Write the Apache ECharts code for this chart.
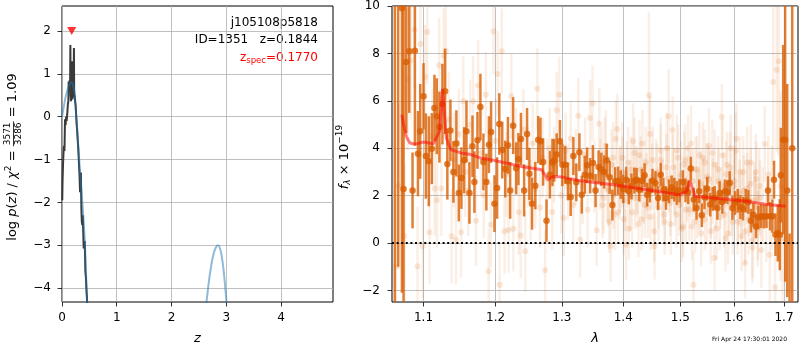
<!DOCTYPE html>
<html><head><meta charset="utf-8">
<script src="https://cdn.jsdelivr.net/npm/echarts@6/dist/echarts.min.js"></script>
<style>html,body{margin:0;padding:0;background:#fff}#c{width:800px;height:350px}</style>
</head><body><div id="c"></div>
<script>
// ---------- LEFT PANEL DATA: log p(z) ----------
const zTicks = [0, 1, 2, 3, 4];
const pTicks = [-4, -3, -2, -1, 0, 1, 2];
const zDark = [0.005, 0.01, 0.02, 0.03, 0.037, 0.045, 0.055, 0.065, 0.075, 0.085,
  0.098, 0.108, 0.117, 0.122, 0.13, 0.14, 0.147, 0.153, 0.158, 0.165,
  0.172, 0.178, 0.183, 0.19, 0.196, 0.2, 0.206, 0.212, 0.218, 0.222,
  0.226, 0.232, 0.24, 0.25, 0.262, 0.275, 0.288, 0.3, 0.31, 0.318,
  0.323, 0.33, 0.337, 0.345, 0.354, 0.362, 0.372, 0.38, 0.39, 0.397,
  0.405, 0.415, 0.427, 0.437, 0.445, 0.455, 0.464, 0.475];
const pDark = [-1.95, -1.5, -1.06, -0.75, -0.68, -0.8, -0.06, -0.2, 0.0, -0.1,
  0.1, 0.3, 0.36, 0.82, 0.7, 0.85, 0.6, 1.67, 0.5, 0.36,
  1.1, 0.6, 1.29, 0.4, 0.9, 0.48, 1.1, 0.7, 1.6, 0.6,
  0.45, 0.5, 0.35, 0.25, -0.05, -0.3, -0.55, -0.83, -1.1, -1.3,
  -1.26, -1.76, -1.5, -1.3, -2.15, -2.45, -2.53, -2.3, -2.8, -3.07,
  -2.95, -2.9, -3.61, -3.75, -4.0, -4.2, -4.46, -4.7];
const zBlueA = [0, 0.03, 0.06, 0.09, 0.12, 0.15, 0.17, 0.19, 0.21, 0.232, 0.26, 0.293, 0.33, 0.384, 0.42, 0.457, 0.48];
const pBlueA = [0.0, 0.22, 0.42, 0.58, 0.7, 0.78, 0.8, 0.78, 0.7, 0.55, 0.0, -0.6, -1.3, -2.22, -3.0, -4.32, -4.8];
const zBlueB = [2.6, 2.64, 2.7, 2.76, 2.81, 2.85, 2.9, 2.95, 3.0, 3.03];
const pBlueB = [-4.88, -4.32, -3.68, -3.24, -3.05, -3.0, -3.14, -3.56, -4.26, -4.81];
const zSpec = 0.1770, zSpecMarkY = 2;

// ---------- RIGHT PANEL DATA: spectrum ----------
const lamTicks = [1.1, 1.2, 1.3, 1.4, 1.5, 1.6, 1.7];
const lamTickLabels = ['1.1', '1.2', '1.3', '1.4', '1.5', '1.6', '1.7'];
const fTicks = [-2, 0, 2, 4, 6, 8, 10];
const lamD = [1.0625, 1.0668, 1.0717, 1.0738, 1.0773, 1.0812, 1.0855, 1.0886, 1.0926, 1.0956,
  1.1000, 1.1031, 1.1070, 1.1110, 1.1146, 1.1177, 1.1213, 1.1254, 1.1290, 1.1321,
  1.1363, 1.1404, 1.1445, 1.1479, 1.1515, 1.1553, 1.1585, 1.1627, 1.1670, 1.1697,
  1.1740, 1.1782, 1.1825, 1.1867, 1.1904, 1.1935, 1.1984, 1.2022, 1.2054, 1.2097,
  1.2141, 1.2180, 1.2213, 1.2257, 1.2302, 1.2336, 1.2373, 1.2421, 1.2465, 1.2500,
  1.2540, 1.2590, 1.2634, 1.2668, 1.2709, 1.2761, 1.2813, 1.2853, 1.2880, 1.2919,
  1.2970, 1.3008, 1.3053, 1.3096, 1.3139, 1.3182, 1.3229, 1.3278, 1.3316, 1.3365,
  1.3403, 1.3452, 1.3496, 1.3540, 1.3590, 1.3634, 1.3680, 1.3723, 1.3773, 1.3818,
  1.3864, 1.3914, 1.3958, 1.4000, 1.4050, 1.4094, 1.4140, 1.4190, 1.4229, 1.4274,
  1.4320, 1.4366, 1.4411, 1.4457, 1.4503, 1.4556, 1.4602, 1.4649, 1.4696, 1.4742,
  1.4795, 1.4843, 1.4891, 1.4937, 1.4985, 1.5045, 1.5094, 1.5143, 1.5191, 1.5245,
  1.5296, 1.5345, 1.5394, 1.5444, 1.5495, 1.5551, 1.5600, 1.5635, 1.5686, 1.5729,
  1.5780, 1.5831, 1.5877, 1.5921, 1.5973, 1.6024, 1.6076, 1.6128, 1.6179, 1.6232,
  1.6284, 1.6335, 1.6383, 1.6435, 1.6482, 1.6534, 1.6588, 1.6643, 1.6675, 1.6716,
  1.6764, 1.6797, 1.6826, 1.6873, 1.6914, 1.6935, 1.6983, 1.7024, 1.7066, 1.7115,
  1.7170];
const fD = [-3.0, 12.0, 9.9, 2.28, 7.64, 8.09, 2.22, 8.11, 3.77, 4.71,
  6.19, 3.67, 3.45, 3.98, 5.70, 5.35, 4.89, 5.86, 6.40, 3.33,
  4.75, 3.00, 4.20, 2.11, 2.74, 3.49, 4.71, 2.11, 4.08, 2.57,
  4.33, 5.74, 3.42, 2.57, 4.15, 4.68, 1.66, 2.32, 5.02, 3.92,
  3.12, 4.12, 2.22, 4.95, 3.15, 3.54, 4.39, 2.22, 4.60, 2.92,
  1.66, 2.42, 4.36, 4.29, 3.42, 0.94, 2.88, 3.40, 3.49, 3.73,
  4.29, 3.30, 3.30, 2.60, 1.94, 3.67, 2.56, 3.83, 2.04, 2.88,
  3.28, 2.84, 3.38, 2.21, 3.21, 3.11, 3.00, 3.49, 2.77, 1.60,
  2.60, 2.63, 2.46, 2.28, 2.67, 2.18, 2.39, 2.63, 2.67, 2.25,
  2.63, 2.86, 2.04, 2.21, 2.63, 2.53, 1.90, 2.88, 2.25, 1.90,
  2.18, 2.35, 2.25, 2.11, 2.21, 2.57, 2.22, 2.14, 3.14, 1.83,
  1.48, 2.18, 1.17, 1.93, 2.29, 1.62, 1.86, 1.90, 1.48, 2.11,
  1.73, 2.18, 2.15, 2.53, 1.48, 1.69, 1.78, 1.51, 1.45, 1.78,
  1.73, 0.94, 1.19, 0.70, 1.08, 1.13, 1.11, 1.13, 2.21, 1.13,
  1.13, 2.67, 0.35, 0.42, 0.35, 2.86, 4.36, 4.36, 2.21, -6.0,
  4.0];
const eD = [14, 13, 12, 8, 3.0, 2.6, 1.6, 4.0, 1.8, 2.0,
  1.4, 1.8, 1.9, 1.5, 1.4, 1.6, 1.5, 1.7, 1.8, 1.5,
  1.3, 1.3, 1.4, 1.2, 1.3, 1.4, 1.3, 1.3, 1.3, 1.3,
  1.2, 1.4, 1.2, 1.2, 1.2, 1.3, 1.2, 1.3, 1.3, 1.2,
  1.2, 1.2, 1.2, 1.2, 1.1, 1.1, 1.1, 1.1, 1.1, 1.1,
  1.1, 1.0, 1.0, 1.0, 1.0, 0.9, 1.0, 1.0, 0.9, 0.9,
  0.9, 0.9, 0.8, 0.8, 0.8, 0.8, 0.8, 0.8, 0.8, 0.8,
  0.75, 0.75, 0.75, 0.7, 0.7, 0.7, 0.7, 0.7, 0.7, 0.65,
  0.6, 0.6, 0.6, 0.6, 0.55, 0.55, 0.55, 0.55, 0.5, 0.5,
  0.5, 0.5, 0.5, 0.5, 0.5, 0.5, 0.5, 0.5, 0.5, 0.5,
  0.5, 0.5, 0.5, 0.5, 0.5, 0.5, 0.5, 0.5, 0.5, 0.5,
  0.5, 0.5, 0.5, 0.5, 0.5, 0.5, 0.5, 0.5, 0.5, 0.5,
  0.5, 0.5, 0.5, 0.5, 0.5, 0.5, 0.5, 0.5, 0.5, 0.5,
  0.5, 0.5, 0.5, 0.5, 0.5, 0.5, 0.5, 0.5, 0.6, 0.6,
  0.7, 0.8, 0.9, 1.2, 1.5, 2.0, 4.0, 6.0, 4.5, 6.4,
  14];
const lamL = [1.064, 1.068, 1.075, 1.079, 1.083, 1.088, 1.092, 1.096, 1.099, 1.102,
  1.105, 1.108, 1.112, 1.115, 1.118, 1.121, 1.124, 1.127, 1.130, 1.134,
  1.138, 1.141, 1.144, 1.148, 1.151, 1.154, 1.157, 1.161, 1.164, 1.168,
  1.172, 1.175, 1.179, 1.183, 1.186, 1.190, 1.193, 1.197, 1.200, 1.203,
  1.206, 1.209, 1.213, 1.216, 1.219, 1.223, 1.226, 1.230, 1.234, 1.237,
  1.241, 1.244, 1.248, 1.252, 1.255, 1.259, 1.262, 1.266, 1.270, 1.274,
  1.277, 1.281, 1.285, 1.288, 1.292, 1.296, 1.299, 1.303, 1.306, 1.310,
  1.314, 1.318, 1.322, 1.326, 1.329, 1.333, 1.337, 1.341, 1.345, 1.349,
  1.352, 1.356, 1.360, 1.364, 1.367, 1.371, 1.375, 1.379, 1.383, 1.386,
  1.390, 1.394, 1.398, 1.401, 1.405, 1.408, 1.412, 1.415, 1.419, 1.422,
  1.426, 1.430, 1.433, 1.437, 1.440, 1.444, 1.447, 1.451, 1.454, 1.458,
  1.461, 1.465, 1.468, 1.472, 1.475, 1.479, 1.482, 1.486, 1.489, 1.493,
  1.496, 1.500, 1.503, 1.507, 1.510, 1.514, 1.517, 1.521, 1.524, 1.528,
  1.531, 1.535, 1.538, 1.542, 1.545, 1.549, 1.552, 1.556, 1.559, 1.563,
  1.566, 1.570, 1.573, 1.577, 1.580, 1.584, 1.587, 1.591, 1.594, 1.598,
  1.601, 1.605, 1.608, 1.612, 1.615, 1.619, 1.622, 1.626, 1.629, 1.633,
  1.636, 1.640, 1.643, 1.647, 1.650, 1.654, 1.657, 1.661, 1.664, 1.668,
  1.671, 1.675, 1.678, 1.682, 1.685, 1.689, 1.693, 1.697];
const fL = [-1.0, 2.4, 0.3, 6.9, 7.7, 9.0, -0.98, 8.4, -0.14, 7.0,
  8.9, 0.45, 4.5, 2.3, 1.8, 7.5, 2.3, 7.9, 8.1, 5.2,
  0.28, 3.5, 0.14, 4.6, 0.45, 5.98, 3.0, 2.2, 5.0, 5.98,
  0.94, 6.65, 3.8, 2.0, 6.26, -1.19, 0.77, 8.93, 4.3, 7.13,
  -1.76, 8.09, 0.5, 2.9, 0.55, 6.19, 0.6, 3.9, 1.3, 0.32,
  4.8, -0.35, 3.2, 1.8, 4.2, 2.3, 6.51, 1.5, 3.6, -1.15,
  2.7, 4.0, 1.31, 3.3, 5.6, 6.26, 2.0, 1.05, 3.9, 2.6,
  4.4, 1.6, 3.2, 5.37, 0.14, 2.4, 3.7, 1.4, 5.27, 5.89,
  2.8, 0.54, 5.03, 3.4, 1.9, 4.1, 2.2, -0.14, 3.6, 1.2,
  4.81, 2.5, 3.0, 1.0, -0.07, 3.4, 2.0, 1.3, 3.8, 2.6,
  0.8, 3.1, 4.2, 1.6, 2.4, 6.23, 1.1, 3.5, -0.14, 2.8,
  1.5, 3.9, 2.1, 0.9, 3.2, 5.35, 1.7, 4.77, 2.6, 1.2,
  3.6, 2.0, 0.6, 3.3, 1.4, 4.0, 2.5, 0.7, -1.76, 3.1,
  1.6, 3.7, 0.4, 2.2, 3.4, 1.3, 2.7, 0.5, 3.8, -0.63,
  2.0, 3.1, 1.1, 5.32, 2.4, 0.2, 3.3, 1.7, 4.0, 0.9,
  2.6, 4.4, 1.4, 3.0, 0.3, 2.2, -0.84, 3.4, 1.0, 2.5,
  0.1, 1.8, 3.0, 0.6, 2.4, -0.3, 1.6, 4.18, 0.8, 2.9,
  -0.5, 1.9, 6.79, -1.87, 7.31, 7.67, 2.4, 0.2];
const eL = [3.5, 3.5, 3.0, 3.0, 2.5, 2.5, 2.5, 2.5, 2.2, 2.2,
  2.2, 2.2, 2.0, 2.0, 2.0, 2.0, 2.0, 2.0, 2.0, 2.0,
  2.0, 2.0, 1.9, 1.9, 1.9, 1.9, 1.9, 1.9, 1.9, 1.9,
  1.9, 1.9, 1.8, 1.8, 1.8, 1.8, 1.8, 1.8, 1.8, 1.8,
  1.8, 1.8, 1.8, 1.8, 1.8, 1.8, 1.8, 1.8, 1.8, 1.8,
  1.7, 1.7, 1.7, 1.7, 1.7, 1.7, 1.7, 1.7, 1.7, 1.7,
  1.7, 1.7, 1.6, 1.6, 1.6, 1.6, 1.6, 1.6, 1.6, 1.6,
  1.6, 1.6, 1.6, 1.6, 1.6, 1.6, 1.6, 1.6, 1.6, 1.6,
  1.5, 1.5, 1.5, 1.5, 1.5, 1.5, 1.5, 1.5, 1.5, 1.5,
  1.5, 1.5, 1.5, 1.5, 1.5, 1.5, 1.5, 1.5, 1.5, 1.5,
  1.4, 1.4, 1.4, 1.4, 1.4, 3.5, 1.4, 1.4, 1.4, 1.4,
  1.4, 1.4, 1.4, 1.4, 1.4, 2.0, 1.4, 1.4, 1.4, 1.4,
  1.4, 1.4, 1.4, 1.4, 1.4, 1.4, 1.4, 1.4, 1.4, 1.4,
  1.4, 1.4, 1.4, 1.4, 1.4, 1.4, 1.4, 1.4, 1.4, 1.4,
  1.4, 1.4, 1.4, 1.4, 1.4, 1.4, 1.4, 1.4, 1.4, 1.4,
  1.5, 1.5, 1.5, 1.5, 1.5, 1.5, 1.5, 1.5, 1.5, 1.5,
  1.6, 1.6, 1.6, 1.6, 1.6, 1.6, 1.6, 1.6, 1.6, 1.6,
  2.0, 2.2, 3.5, 2.5, 3.5, 4.0, 4.0, 4.5];
// second exposure, dense region
const lamL2 = [1.3618, 1.3655, 1.3692, 1.3728, 1.3765, 1.3802, 1.3838, 1.3875, 1.3912, 1.3948,
  1.3985, 1.4022, 1.4058, 1.4095, 1.4132, 1.4168, 1.4205, 1.4242, 1.4278, 1.4315,
  1.4352, 1.4388, 1.4425, 1.4462, 1.4498, 1.4535, 1.4572, 1.4608, 1.4645, 1.4682,
  1.4718, 1.4755, 1.4792, 1.4828, 1.4865, 1.4902, 1.4938, 1.4975, 1.5012, 1.5048,
  1.5085, 1.5122, 1.5158, 1.5195, 1.5232, 1.5268, 1.5305, 1.5342, 1.5378, 1.5415,
  1.5452, 1.5488, 1.5525, 1.5562, 1.5598, 1.5635, 1.5672, 1.5708, 1.5745, 1.5782,
  1.5818, 1.5855, 1.5892, 1.5928, 1.5965, 1.6002, 1.6038, 1.6075, 1.6112, 1.6148,
  1.6185, 1.6222, 1.6258, 1.6295, 1.6332, 1.6368, 1.6405, 1.6442, 1.6478, 1.6515];
const fL2 = [2.9, 1.6, 3.8, 2.3, 0.9, 3.3, 2.0, 4.4, 1.3, 2.7,
  3.6, 1.8, 2.9, 0.6, 3.1, 4.3, 1.9, 2.6, 3.7, 1.0,
  2.2, 3.4, 1.5, 4.6, 2.8, 0.5, 3.0, 1.9, 3.5, 2.4,
  1.2, 4.0, 2.7, 0.8, 3.2, 2.0, 3.9, 1.6, 2.9, 0.7,
  3.5, 2.3, 1.4, 4.2, 2.6, 0.9, 3.1, 1.8, 2.5, 3.6,
  1.0, 2.8, 4.1, 1.5, 2.2, 3.3, 0.6, 2.6, 1.9, 3.7,
  1.2, 2.9, 0.4, 3.2, 1.7, 2.4, 3.9, 0.9, 2.1, 1.4,
  3.0, 0.5, 2.3, 1.8, 3.4, -0.2, 1.5, 2.7, 0.8, 1.9];
const eL2 = [1.5, 1.4, 1.5, 1.4, 1.3, 1.5, 1.4, 1.6, 1.3, 1.4,
  1.5, 1.3, 1.4, 1.3, 1.4, 1.6, 1.3, 1.4, 1.5, 1.3,
  1.4, 1.5, 1.3, 1.6, 1.4, 1.3, 1.4, 1.3, 1.5, 1.4,
  1.3, 1.5, 1.4, 1.3, 1.4, 1.3, 1.5, 1.3, 1.4, 1.3,
  1.5, 1.4, 1.3, 1.6, 1.4, 1.3, 1.4, 1.3, 1.4, 1.5,
  1.3, 1.4, 1.6, 1.3, 1.4, 1.5, 1.3, 1.4, 1.3, 1.5,
  1.4, 1.4, 1.3, 1.5, 1.4, 1.4, 1.6, 1.4, 1.4, 1.5,
  1.5, 1.4, 1.5, 1.5, 1.6, 1.5, 1.5, 1.6, 1.5, 1.6];
const lamM = [1.0717, 1.0738, 1.0773, 1.0820, 1.0890, 1.1000, 1.1133, 1.1213, 1.1255, 1.1307,
  1.1367, 1.1507, 1.1651, 1.1778, 1.1969, 1.2361, 1.2686, 1.2786, 1.2867, 1.2998,
  1.3289, 1.3833, 1.4402, 1.4992, 1.5115, 1.5174, 1.5266, 1.5607, 1.6249, 1.6646, 1.7037];
const fM = [5.41, 4.99, 4.50, 4.22, 4.17, 4.26, 4.19, 4.71, 6.50, 4.43,
  3.94, 3.80, 3.73, 3.59, 3.49, 3.24, 3.09, 2.67, 2.81, 2.78,
  2.63, 2.46, 2.25, 2.04, 2.18, 2.63, 1.97, 1.90, 1.76, 1.62, 1.55];

// ---------- rendering ----------
const ORANGE = '#d95f02';
const FONT = '"DejaVu Sans", sans-serif';
const LAM_MIN = 1.0589, LAM_MAX = 1.729;
const lnTicks = lamTicks.map(Math.log);
function lamLabel(v) {
  let best = 0;
  lnTicks.forEach((t, i) => { if (Math.abs(t - v) < Math.abs(lnTicks[best] - v)) best = i; });
  return lamTickLabels[best];
}
function clamp(v, a, b) { return Math.max(a, Math.min(b, v)); }
function errItem(color, width, barOp, dotR, dotOp) {
  return function (params, api) {
    const x = api.value(0), f = api.value(1), e = api.value(2);
    const cs = params.coordSys;
    const hi = api.coord([x, f + e]), lo = api.coord([x, f - e]), c = api.coord([x, f]);
    const y1 = clamp(hi[1], cs.y, cs.y + cs.height), y2 = clamp(lo[1], cs.y, cs.y + cs.height);
    const ch = [{ type: 'line', shape: { x1: c[0], y1: y1, x2: c[0], y2: y2 }, style: { stroke: color, lineWidth: width, opacity: barOp } }];
    if (dotR > 0 && c[1] >= cs.y && c[1] <= cs.y + cs.height) {
      ch.push({ type: 'circle', shape: { cx: c[0], cy: c[1], r: dotR }, style: { fill: color, opacity: dotOp } });
    }
    return { type: 'group', children: ch };
  };
}

// text layout helper
const mctx = document.createElement('canvas').getContext('2d');
function fontStr(size, italic) { return (italic ? 'italic ' : '') + size + 'px ' + FONT; }
function tw(t, size, italic) { mctx.font = fontStr(size, italic); return mctx.measureText(t).width; }
function layoutPieces(pieces, color) {
  let x = 0; const ch = [];
  pieces.forEach(p => {
    const size = p.size || 13;
    if (p.frac) {
      const s = p.size || 9;
      const w = Math.max(tw(p.frac[0], s), tw(p.frac[1], s)) + 2;
      ch.push({ type: 'text', x: x + w / 2, y: -5, style: { text: p.frac[0], font: fontStr(s), fill: color, align: 'center', verticalAlign: 'middle' } });
      ch.push({ type: 'text', x: x + w / 2, y: 6, style: { text: p.frac[1], font: fontStr(s), fill: color, align: 'center', verticalAlign: 'middle' } });
      ch.push({ type: 'line', shape: { x1: x, y1: 0.5, x2: x + w, y2: 0.5 }, style: { stroke: color, lineWidth: 0.8 } });
      x += w;
    } else {
      ch.push({ type: 'text', x: x, y: p.dy || 0, style: { text: p.t, font: fontStr(size, p.it), fill: color, align: 'left', verticalAlign: 'middle' } });
      x += tw(p.t, size, p.it);
    }
  });
  return { children: ch, width: x };
}
function textGroup(pieces, color, cx, cy, rotation, anchor) {
  const L = layoutPieces(pieces, color);
  const off = anchor === 'right' ? -L.width : (anchor === 'left' ? 0 : -L.width / 2);
  L.children.forEach(c => { if (c.type === 'line') { c.shape.x1 += off; c.shape.x2 += off; } else { c.x += off; } });
  return { type: 'group', x: cx, y: cy, rotation: rotation || 0, children: L.children, silent: true };
}

const chart = echarts.init(document.getElementById('c'), null, { renderer: 'canvas' });
const axisCommon = {
  axisLine: { show: false, onZero: false },
  axisTick: { show: true, length: 4.5, lineStyle: { color: '#000', width: 0.8 } },
  axisLabel: { color: '#000', fontFamily: FONT, fontSize: 12, margin: 10 },
  splitLine: { show: true, lineStyle: { color: '#b0b0b0', width: 0.8 } }
};
function ax(extra) {
  const o = JSON.parse(JSON.stringify(axisCommon));
  for (const k in extra) {
    if (typeof extra[k] === 'object' && !Array.isArray(extra[k]) && o[k]) Object.assign(o[k], extra[k]);
    else o[k] = extra[k];
  }
  return o;
}
const nameStyle = { fontFamily: FONT, fontStyle: 'italic', fontSize: 13, color: '#000' };
const xL = ax({ type: 'value', gridIndex: 0, min: 0, max: 4.95, interval: 1, name: 'z',
  nameLocation: 'middle', nameGap: 30, nameTextStyle: nameStyle });
xL.axisLabel.customValues = zTicks; xL.axisTick.customValues = zTicks;
const yL = ax({ type: 'value', gridIndex: 0, min: -4.32, max: 2.58 });
yL.axisLabel.customValues = pTicks; yL.axisTick.customValues = pTicks;
yL.axisLabel.margin = 11;
yL.axisLabel.formatter = v => (v < 0 ? '\u2212' + Math.abs(v) : String(v));
const xR = ax({ type: 'value', gridIndex: 1, min: Math.log(LAM_MIN), max: Math.log(LAM_MAX), name: '\u03bb',
  nameLocation: 'middle', nameGap: 30, nameTextStyle: nameStyle });
xR.axisLabel.customValues = lnTicks; xR.axisTick.customValues = lnTicks; xR.axisLabel.formatter = lamLabel;
const yR = ax({ type: 'value', gridIndex: 1, min: -2.49, max: 10 });
yR.axisLabel.customValues = fTicks; yR.axisTick.customValues = fTicks;
yR.axisLabel.margin = 12;
yR.axisLabel.formatter = v => (v < 0 ? '\u2212' + Math.abs(v) : String(v));

const option = {
  animation: false,
  backgroundColor: '#fff',
  grid: [
    { left: 62, top: 6, width: 271, height: 298, show: true, borderColor: '#000', borderWidth: 1, backgroundColor: 'transparent' },
    { left: 392, top: 6, width: 406, height: 298, show: true, borderColor: '#000', borderWidth: 1, backgroundColor: 'transparent' }
  ],
  xAxis: [xL, xR],
  yAxis: [yL, yR],
  series: [
    { type: 'line', xAxisIndex: 0, yAxisIndex: 0, data: zDark.map((z, i) => [z, pDark[i]]), symbol: 'none',
      lineStyle: { color: '#3a3a3a', width: 2 }, clip: true, z: 3 },
    { type: 'line', xAxisIndex: 0, yAxisIndex: 0, data: zBlueA.map((z, i) => [z, pBlueA[i]]), symbol: 'none', smooth: 0.3,
      lineStyle: { color: '#1f77b4', width: 2, opacity: 0.5 }, clip: true, z: 4 },
    { type: 'line', xAxisIndex: 0, yAxisIndex: 0, data: zBlueB.map((z, i) => [z, pBlueB[i]]), symbol: 'none', smooth: 0.3,
      lineStyle: { color: '#1f77b4', width: 2, opacity: 0.5 }, clip: true, z: 4 },
    { type: 'scatter', xAxisIndex: 0, yAxisIndex: 0, data: [[zSpec, zSpecMarkY]], symbol: 'triangle', symbolRotate: 180,
      symbolSize: [9, 8], itemStyle: { color: '#ff0000' }, z: 5 },
    { type: 'custom', xAxisIndex: 1, yAxisIndex: 1, renderItem: errItem(ORANGE, 2.5, 0.1, 3, 0.14),
      data: lamL.map((l, i) => [Math.log(l), fL[i], eL[i]]), z: 2 },
    { type: 'custom', xAxisIndex: 1, yAxisIndex: 1, renderItem: errItem(ORANGE, 2.5, 0.1, 3, 0.14),
      data: lamL2.map((l, i) => [Math.log(l), fL2[i], eL2[i]]), z: 2 },
    { type: 'custom', xAxisIndex: 1, yAxisIndex: 1, renderItem: errItem(ORANGE, 2.5, 0.8, 0, 0),
      data: lamD.map((l, i) => [Math.log(l), fD[i], eD[i]]), z: 3 },
    { type: 'scatter', xAxisIndex: 1, yAxisIndex: 1, data: lamD.map((l, i) => [Math.log(l), fD[i]]), symbolSize: 6.5,
      itemStyle: { color: ORANGE }, clip: true, z: 4 },
    { type: 'line', xAxisIndex: 1, yAxisIndex: 1, data: lamM.map((l, i) => [Math.log(l), fM[i]]), symbol: 'none',
      lineStyle: { color: '#ff0000', width: 3, opacity: 0.5 }, z: 5,
      markLine: { silent: true, symbol: 'none', label: { show: false },
        lineStyle: { color: '#000', width: 2, type: [2, 2.6], opacity: 1 }, data: [{ yAxis: 0 }] } }
  ],
  graphic: [
    textGroup([{ t: 'j105108p5818', size: 12 }], '#000', 318, 23, 0, 'right'),
    textGroup([{ t: 'ID=1351   z=0.1844', size: 12 }], '#000', 318, 39.5, 0, 'right'),
    textGroup([{ t: 'z', size: 12 }, { t: 'spec', size: 8.5, dy: 3 }, { t: '=0.1770', size: 12 }], '#ff0000', 318, 57.5, 0, 'right'),
    textGroup([{ t: 'log ' }, { t: 'p', it: true }, { t: '(' }, { t: 'z', it: true }, { t: ') / ' }, { t: '\u03c7', it: true },
      { t: '2', size: 9, dy: -4 }, { t: ' = ' }, { frac: ['3571', '3286'] }, { t: ' = 1.09' }], '#000', 13, 157, Math.PI / 2, 'center'),
    textGroup([{ t: 'f', it: true }, { t: '\u03bb', it: true, size: 9, dy: 3 }, { t: ' \u00d7 10' }, { t: '\u221219', size: 9, dy: -5 }],
      '#000', 345, 157, Math.PI / 2, 'center'),
    { type: 'text', x: 787, y: 336, style: { text: 'Fri Apr 24 17:30:01 2020', font: fontStr(6), fill: '#000', align: 'right' } }
  ]
};
chart.setOption(option);
</script></body></html>
